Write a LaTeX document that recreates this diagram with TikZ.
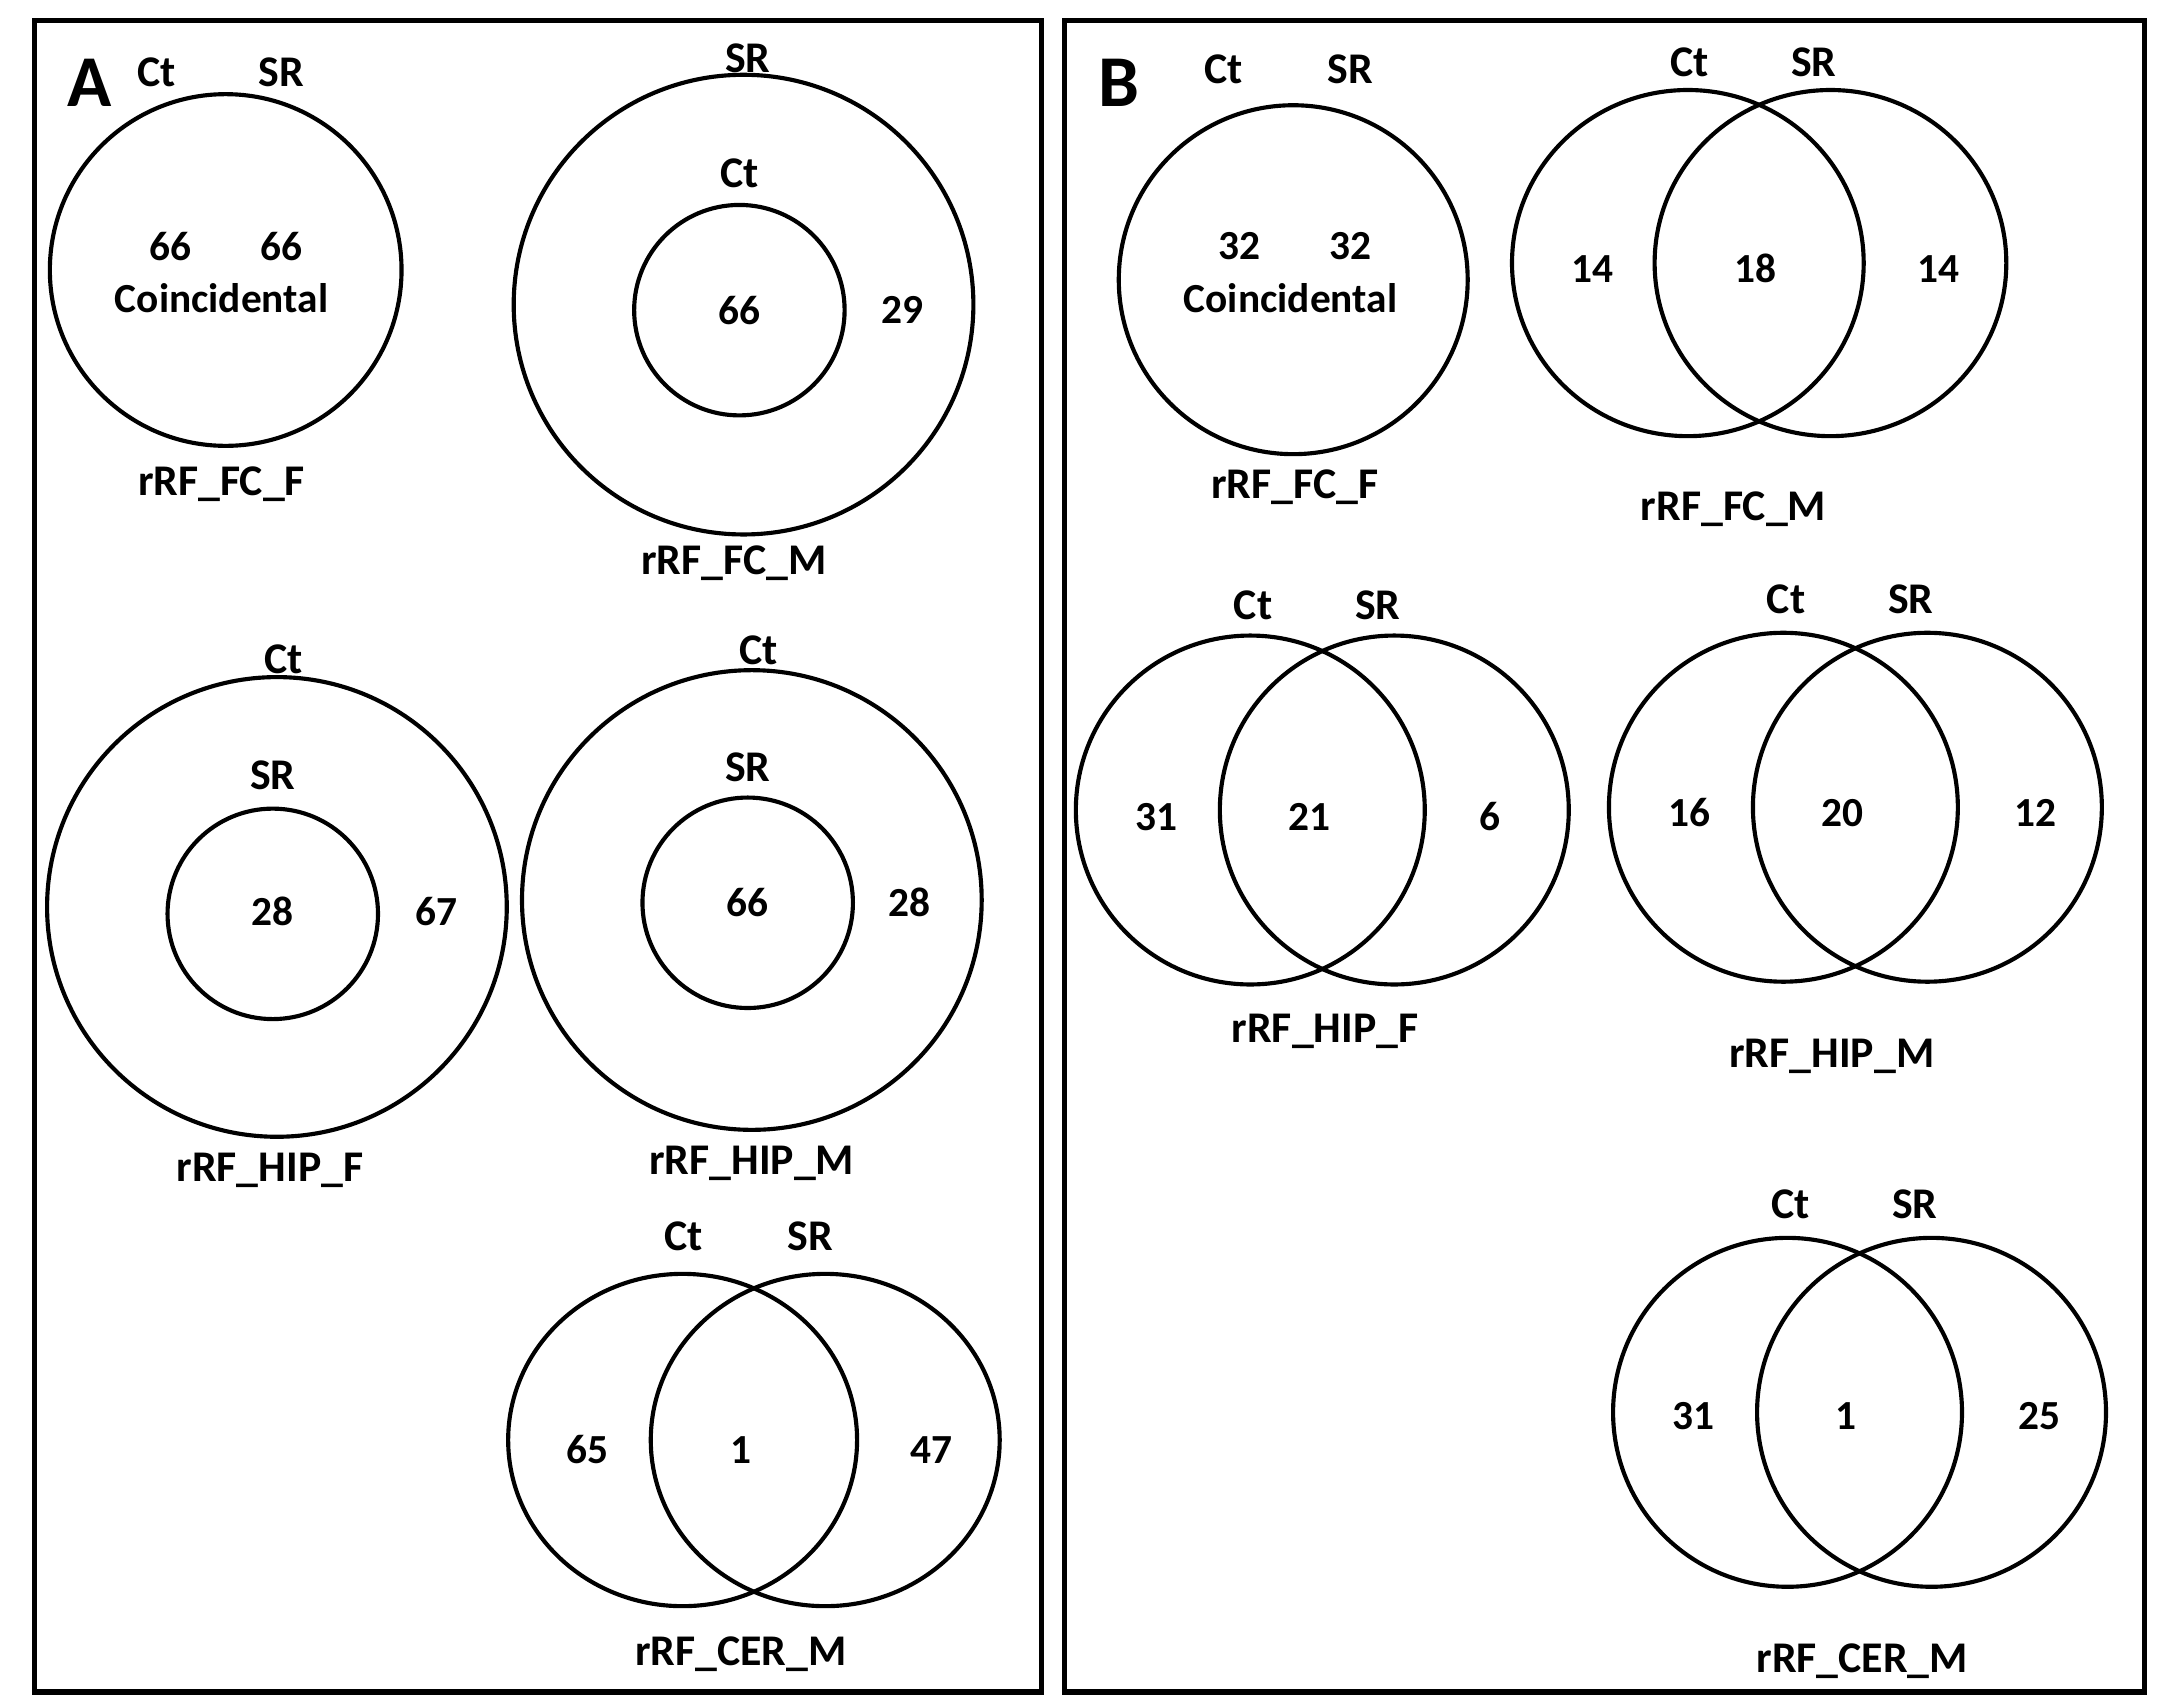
\documentclass[tikz,border=0pt]{standalone}
\usepackage{fontspec}
\setmainfont{Carlito}
\usetikzlibrary{backgrounds}
\tikzset{
	set/.style={line width=0.85pt},
	frame/.style={line width=1.1pt},
	lbl/.style={font=\bfseries\fontsize{9}{10}\selectfont, inner sep=0pt},
	num/.style={font=\bfseries\fontsize{8.5}{10}\selectfont, inner sep=0pt},
	panel/.style={font=\bfseries\fontsize{15}{16}\selectfont, inner sep=0pt}
}
\begin{document}
\begin{tikzpicture}[x=0.1mm, y=-0.1mm]
			\useasboundingbox (0, 0) rectangle (1560, 1231);
			\draw[frame] (25, 15) rectangle (752, 1222);
			\draw[frame] (769, 15) rectangle (1549, 1222);
			\node[panel] (pA) at (65, 60) {A};
			\node[panel] (pB) at (808, 60) {B};
			
			% panel A
			\draw[set] (163, 195) ellipse[x radius=127, y radius=127];
			\node[lbl] (a1ct) at (113, 52) {Ct};
			\node[lbl] (a1sr) at (203, 52) {SR};
			\node[num] (a1l) at (123, 178) {66};
			\node[num] (a1r) at (203, 178) {66};
			\node[num] (a1c) at (160, 215) {Coincidental};
			\node[lbl] (a1t) at (160, 350) {rRF\_FC\_F};
			
			\draw[set] (537, 220) circle[radius=166];
			\draw[set] (534, 224) circle[radius=76];
			\node[lbl] (a2sr) at (540, 42) {SR};
			\node[lbl] (a2ct) at (534, 125) {Ct};
			\node[num] (a2in) at (534, 224) {66};
			\node[num] (a2out) at (652, 224) {29};
			\node[lbl] (a2t) at (530, 407) {rRF\_FC\_M};
			
			\draw[set] (200, 655) circle[radius=166];
			\draw[set] (197, 660) circle[radius=76];
			\node[lbl] (a3ct) at (205, 476) {Ct};
			\node[lbl] (a3sr) at (197, 560) {SR};
			\node[num] (a3in) at (197, 658) {28};
			\node[num] (a3out) at (315, 658) {67};
			\node[lbl] (a3t) at (195, 845) {rRF\_HIP\_F};
			
			\draw[set] (543, 650) circle[radius=166];
			\draw[set] (540, 652) circle[radius=76];
			\node[lbl] (a4ct) at (548, 470) {Ct};
			\node[lbl] (a4sr) at (540, 554) {SR};
			\node[num] (a4in) at (540, 652) {66};
			\node[num] (a4out) at (657, 652) {28};
			\node[lbl] (a4t) at (543, 840) {rRF\_HIP\_M};
			
			\draw[set] (493, 1040) ellipse[x radius=126, y radius=120];
			\draw[set] (596, 1040) ellipse[x radius=126, y radius=120];
			\node[lbl] (a5ct) at (494, 893) {Ct};
			\node[lbl] (a5sr) at (585, 893) {SR};
			\node[num] (a5l) at (424, 1047) {65};
			\node[num] (a5m) at (535, 1047) {1};
			\node[num] (a5r) at (673, 1047) {47};
			\node[lbl] (a5t) at (535, 1195) {rRF\_CER\_M};
			
			% panel B
			\draw[set] (934, 202) circle[radius=126];
			\node[lbl] (b1ct) at (884, 50) {Ct};
			\node[lbl] (b1sr) at (975, 50) {SR};
			\node[num] (b1l) at (895, 178) {32};
			\node[num] (b1r) at (975, 178) {32};
			\node[num] (b1c) at (932, 215) {Coincidental};
			\node[lbl] (b1t) at (935, 352) {rRF\_FC\_F};
			
			\draw[set] (1219, 190) ellipse[x radius=127, y radius=125];
			\draw[set] (1322, 190) ellipse[x radius=127, y radius=125];
			\node[lbl] (b2ct) at (1220, 45) {Ct};
			\node[lbl] (b2sr) at (1310, 45) {SR};
			\node[num] (b2l) at (1150, 194) {14};
			\node[num] (b2m) at (1268, 194) {18};
			\node[num] (b2r) at (1400, 194) {14};
			\node[lbl] (b2t) at (1252, 368) {rRF\_FC\_M};
			
			\draw[set] (903, 585) circle[radius=126];
			\draw[set] (1007, 585) circle[radius=126];
			\node[lbl] (b3ct) at (905, 437) {Ct};
			\node[lbl] (b3sr) at (995, 437) {SR};
			\node[num] (b3l) at (835, 590) {31};
			\node[num] (b3m) at (946, 590) {21};
			\node[num] (b3r) at (1076, 590) {6};
			\node[lbl] (b3t) at (957, 745) {rRF\_HIP\_F};
			
			\draw[set] (1288, 583) circle[radius=126];
			\draw[set] (1392, 583) circle[radius=126];
			\node[lbl] (b4ct) at (1290, 433) {Ct};
			\node[lbl] (b4sr) at (1380, 433) {SR};
			\node[num] (b4l) at (1220, 587) {16};
			\node[num] (b4m) at (1331, 587) {20};
			\node[num] (b4r) at (1470, 587) {12};
			\node[lbl] (b4t) at (1323, 763) {rRF\_HIP\_M};
			
			\draw[set] (1291, 1020) circle[radius=126];
			\draw[set] (1395, 1020) circle[radius=126];
			\node[lbl] (b5ct) at (1293, 870) {Ct};
			\node[lbl] (b5sr) at (1383, 870) {SR};
			\node[num] (b5l) at (1223, 1023) {31};
			\node[num] (b5m) at (1333, 1023) {1};
			\node[num] (b5r) at (1473, 1023) {25};
			\node[lbl] (b5t) at (1345, 1200) {rRF\_CER\_M};
\end{tikzpicture}
\end{document}
